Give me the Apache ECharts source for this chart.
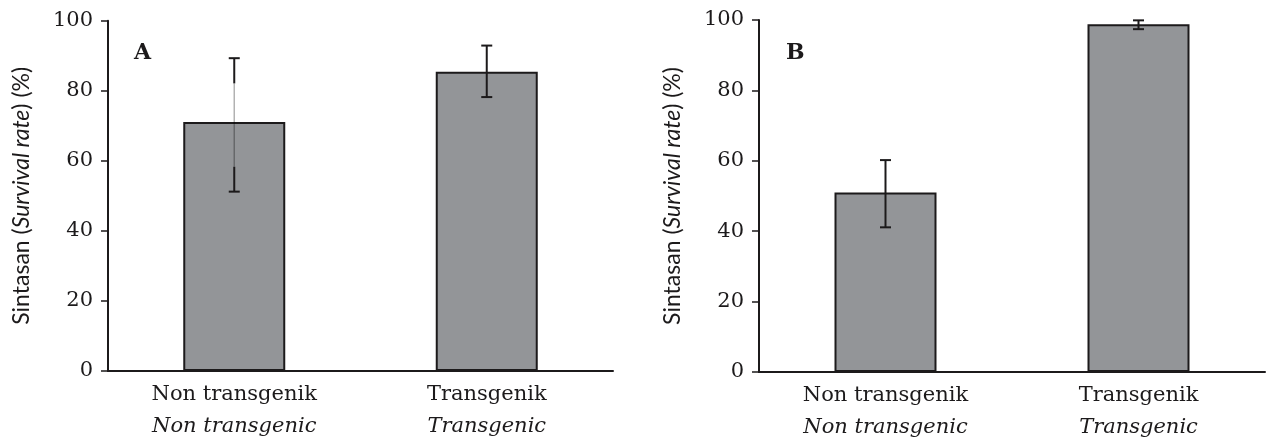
<!DOCTYPE html>
<html>
<head>
<meta charset="utf-8">
<script src="https://cdn.jsdelivr.net/npm/echarts@6/dist/echarts.min.js"></script>
<style>
  html, body { margin: 0; padding: 0; background: #fff; }
  #chart { width: 1266px; height: 441px; }
</style>
</head>
<body>
<div id="chart"></div>
<script>
// kategori (baris 1 Indonesia, baris 2 Inggris miring)
const categories = ['Non transgenik', 'Transgenik']
const categoriesEn = ['Non transgenic', 'Transgenic']
const yTicks = [0, 20, 40, 60, 80, 100]

// panel A
const survivalA = [71.1, 85.4]
const errLowA = [51.2, 78.2]
const errHighA = [89.3, 92.9]
// bagian tengah garis error yang tampak tipis/abu pada gambar asli
const thinA = [[58.3, 82.1], null]

// panel B
const survivalB = [51.0, 98.8]
const errLowB = [41.1, 97.4]
const errHighB = [60.2, 99.9]
const thinB = [null, null]

const ink = '#1c1a1b'
const barGrey = '#939598'
const serif = 'DejaVu Serif'

let chart = echarts.init(document.getElementById('chart'))

function errData (low, high, thin) {
  return low.map(function (v, i) {
    const t = thin[i]
    return [i, v, high[i], t ? t[0] : -1, t ? t[1] : -1]
  })
}

function renderErr (params, api) {
  const idx = api.value(0)
  const lo = api.coord([idx, api.value(1)])
  const hi = api.coord([idx, api.value(2)])
  const x = lo[0]
  const cap = 5.5
  const thick = { stroke: ink, lineWidth: 2 }
  const children = [
    { type: 'line', shape: { x1: x - cap, y1: hi[1], x2: x + cap, y2: hi[1] }, style: thick },
    { type: 'line', shape: { x1: x - cap, y1: lo[1], x2: x + cap, y2: lo[1] }, style: thick }
  ]
  if (api.value(3) >= 0) {
    const t0 = api.coord([idx, api.value(3)])[1]
    const t1 = api.coord([idx, api.value(4)])[1]
    children.push(
      { type: 'line', shape: { x1: x, y1: hi[1], x2: x, y2: t1 }, style: thick },
      { type: 'line', shape: { x1: x, y1: t1, x2: x, y2: t0 }, style: { stroke: 'rgba(0,0,0,0.3)', lineWidth: 1.5 } },
      { type: 'line', shape: { x1: x, y1: t0, x2: x, y2: lo[1] }, style: thick }
    )
  } else {
    children.push({ type: 'line', shape: { x1: x, y1: hi[1], x2: x, y2: lo[1] }, style: thick })
  }
  return { type: 'group', children: children }
}

function xAxisFor (gridIndex) {
  return {
    type: 'category',
    gridIndex: gridIndex,
    data: categories,
    axisLine: { lineStyle: { color: ink, width: 2 } },
    axisTick: { length: 7, lineStyle: { color: ink, width: 1.5 } },
    axisLabel: {
      margin: 8,
      formatter: function (value, index) {
        return '{a|' + value + '}\n{b|' + categoriesEn[index] + '}'
      },
      rich: {
        a: { fontFamily: serif, fontSize: 21, color: ink, lineHeight: 32 },
        b: { fontFamily: serif, fontSize: 21, fontStyle: 'italic', color: ink, lineHeight: 32 }
      }
    }
  }
}

function yAxisFor (gridIndex) {
  return {
    type: 'value',
    gridIndex: gridIndex,
    min: yTicks[0],
    max: yTicks[yTicks.length - 1],
    interval: 20,
    splitLine: { show: false },
    axisLine: { show: true, lineStyle: { color: ink, width: 2 } },
    axisTick: { show: true, length: 7, lineStyle: { color: ink, width: 1.5 } },
    axisLabel: { margin: 15, fontFamily: serif, fontSize: 21, color: ink },
    name: '{n|Sintasan (}{i|Survival rate}{n|) (%)}',
    nameLocation: 'middle',
    nameGap: 75,
    nameTextStyle: {
      rich: {
        n: { fontFamily: 'Lato', fontSize: 23, color: ink },
        i: { fontFamily: 'Lato', fontSize: 23, fontStyle: 'italic', color: ink }
      }
    }
  }
}

function barSeries (idx, values) {
  return {
    type: 'bar',
    xAxisIndex: idx,
    yAxisIndex: idx,
    data: values,
    barWidth: 102,
    itemStyle: { color: barGrey, borderColor: ink, borderWidth: 2 },
    silent: true
  }
}

function errSeries (idx, low, high, thin) {
  return {
    type: 'custom',
    xAxisIndex: idx,
    yAxisIndex: idx,
    data: errData(low, high, thin),
    renderItem: renderErr,
    z: 5,
    silent: true
  }
}

chart.setOption({
  animation: false,
  grid: [
    { left: 108, top: 20.7, width: 505, height: 350.3 },
    { left: 759, top: 20, width: 506, height: 352 }
  ],
  xAxis: [xAxisFor(0), xAxisFor(1)],
  yAxis: [yAxisFor(0), yAxisFor(1)],
  graphic: [
    { type: 'text', left: 134, top: 42, style: { text: 'A', font: 'bold 22px "DejaVu Serif"', fill: ink } },
    { type: 'text', left: 786, top: 42, style: { text: 'B', font: 'bold 22px "DejaVu Serif"', fill: ink } }
  ],
  series: [
    barSeries(0, survivalA),
    errSeries(0, errLowA, errHighA, thinA),
    barSeries(1, survivalB),
    errSeries(1, errLowB, errHighB, thinB)
  ]
})
</script>
</body>
</html>
